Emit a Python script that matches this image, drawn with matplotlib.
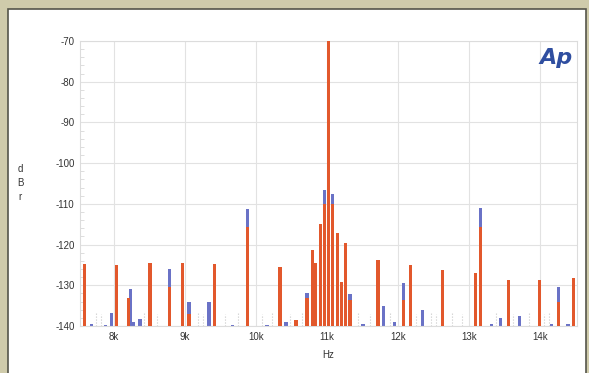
import matplotlib.pyplot as plt
from matplotlib.patches import Rectangle

# orange trace: frequency (Hz) and level (dBr)
orange_hz = [7580, 8038, 8200, 8505, 8785, 8963, 9056, 9416, 9875, 10337, 10561,
             10716, 10794, 10842, 10902, 10958, 11025, 11075, 11145, 11201, 11254, 11324,
             11717, 12071, 12170, 12628, 13086, 13165, 13553, 13997, 14263, 14473]
orange_db = [-124.8, -124.9, -133.2, -124.5, -130.4, -124.6, -137.0, -124.8, -115.6, -125.6, -138.5,
             -133.0, -121.4, -124.5, -115.0, -110.0, -70.0, -110.0, -117.2, -129.1, -119.5, -133.5,
             -123.8, -133.6, -125.0, -126.3, -127.1, -115.6, -128.6, -128.6, -134.0, -128.3]

# blue trace (drawn behind the orange one)
blue_hz = [7687, 7874, 7958, 8229, 8270, 8365, 8785, 9056, 9336, 9664, 9875, 10155, 10421,
           10716, 10958, 11075, 11324, 11505, 11790, 11950, 12071, 12347,
           13165, 13320, 13442, 13713, 14162, 14263, 14393]
blue_db = [-139.5, -139.7, -136.9, -130.8, -139.0, -138.4, -125.9, -134.0, -134.0, -139.7, -111.3, -139.8, -139.0,
           -131.8, -106.6, -107.6, -132.2, -139.5, -135.0, -139.0, -129.4, -136.0,
           -111.1, -139.5, -138.0, -137.6, -139.5, -130.4, -139.5]

# faint noise marks near the floor
grey_hz = [7740, 7810, 8420, 8610, 9180, 9250, 9560, 9740, 10080, 10220, 10480, 10640,
           11430, 11600, 11880, 12250, 12470, 12540, 12760, 12900, 13380, 13620, 13850, 14060, 14120]
grey_db = [-136.5, -137, -136.5, -137, -136.5, -137, -137, -136.5, -137, -136.5, -137, -136.5,
           -136.5, -137, -136.5, -137, -136.5, -137, -136.5, -137, -136.5, -137, -136.5, -137, -136.5]

y_ticks = [-70, -80, -90, -100, -110, -120, -130, -140]
x_ticks = [8000, 9000, 10000, 11000, 12000, 13000, 14000]
x_labels = ['8k', '9k', '10k', '11k', '12k', '13k', '14k']

floor = -140
plt.rcParams['font.family'] = ['Liberation Sans', 'DejaVu Sans']
plt.rcParams['axes.unicode_minus'] = False

fig = plt.figure(figsize=(5.89, 3.73), dpi=100)
fig.patch.set_facecolor('#cfcbab')
# white panel with dark border
fig.add_artist(Rectangle((8 / 589, -0.05), 578 / 589, 1.05 - 9 / 373, transform=fig.transFigure,
                         facecolor='white', edgecolor='#55554a', linewidth=1.2, zorder=0))

ax = fig.add_axes([80 / 589, 47 / 373, 497 / 589, 285 / 373])
ax.set_facecolor('white')

ax.vlines(grey_hz, floor, grey_db, colors='#c8c8c8', linewidth=0.8, linestyles=':', zorder=1)
ax.bar(blue_hz, [d - floor for d in blue_db], bottom=floor, width=45,
       color='#6a72c6', zorder=2)
ax.bar(orange_hz, [d - floor for d in orange_db], bottom=floor, width=45,
       color='#e2582c', zorder=3)

ax.set_xlim(7520, 14520)
ax.set_ylim(-140, -70)
ax.set_xticks(x_ticks)
ax.set_xticklabels(x_labels)
ax.set_yticks(y_ticks)
ax.set_yticks(range(-140, -70, 2), minor=True)
ax.tick_params(axis='both', which='major', length=0, labelsize=7, colors='#333333', pad=4)
ax.tick_params(axis='y', which='minor', length=3, color='#d8d8d8', direction='in')
ax.tick_params(axis='x', which='minor', length=0)
ax.grid(True, which='major', color='#e2e2e2', linewidth=0.8)
for s in ax.spines.values():
    s.set_color('#dcdcdc')
    s.set_linewidth(0.8)

ax.set_xlabel('Hz', fontsize=7, color='#333333', labelpad=6)
fig.text(20 / 589, 1 - 183 / 373, 'd\nB\nr', fontsize=7, color='#333333',
         ha='center', va='center', linespacing=1.55)

ax.text(0.992, 0.94, 'Ap', transform=ax.transAxes, fontsize=16, fontweight='bold',
        fontstyle='italic', color='#2f4ea0', ha='right', va='center', family='DejaVu Sans')

fig.savefig('out.png', dpi=100)
